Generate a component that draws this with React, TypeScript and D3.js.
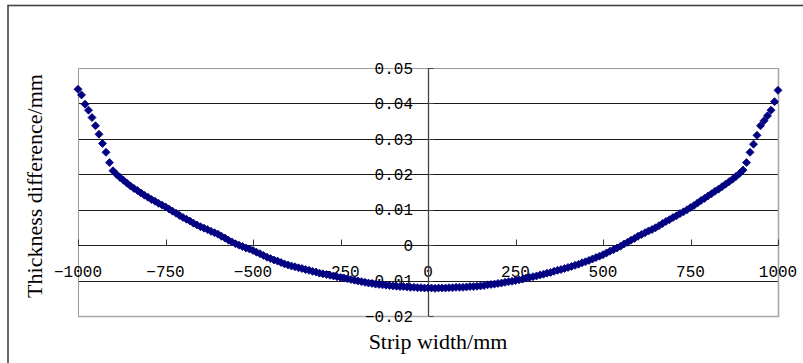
import { useRef, useEffect } from "react";
import * as d3 from "d3";

// strip width positions (mm), one sample every 10 mm
const stripWidth = [
  -1000, -990, -980, -970, -960, -950, -940, -930, -920, -910,
  -900, -890, -880, -870, -860, -850, -840, -830, -820, -810,
  -800, -790, -780, -770, -760, -750, -740, -730, -720, -710,
  -700, -690, -680, -670, -660, -650, -640, -630, -620, -610,
  -600, -590, -580, -570, -560, -550, -540, -530, -520, -510,
  -500, -490, -480, -470, -460, -450, -440, -430, -420, -410,
  -400, -390, -380, -370, -360, -350, -340, -330, -320, -310,
  -300, -290, -280, -270, -260, -250, -240, -230, -220, -210,
  -200, -190, -180, -170, -160, -150, -140, -130, -120, -110,
  -100, -90, -80, -70, -60, -50, -40, -30, -20, -10,
  0, 10, 20, 30, 40, 50, 60, 70, 80, 90,
  100, 110, 120, 130, 140, 150, 160, 170, 180, 190,
  200, 210, 220, 230, 240, 250, 260, 270, 280, 290,
  300, 310, 320, 330, 340, 350, 360, 370, 380, 390,
  400, 410, 420, 430, 440, 450, 460, 470, 480, 490,
  500, 510, 520, 530, 540, 550, 560, 570, 580, 590,
  600, 610, 620, 630, 640, 650, 660, 670, 680, 690,
  700, 710, 720, 730, 740, 750, 760, 770, 780, 790,
  800, 810, 820, 830, 840, 850, 860, 870, 880, 890,
  900, 910, 920, 930, 940, 950, 960, 970, 980, 990,
  1000,
];

// thickness difference (mm)
const thicknessDiff = [
  0.044, 0.0424, 0.0398, 0.0381, 0.036, 0.0337, 0.0313, 0.0287, 0.0262, 0.0233,
  0.021, 0.02, 0.0191, 0.0183, 0.0175, 0.0167, 0.016, 0.0154, 0.0147, 0.0141,
  0.0135, 0.0129, 0.0124, 0.0118, 0.0113, 0.0108, 0.0102, 0.0096, 0.009, 0.0084,
  0.0078, 0.0073, 0.0068, 0.0062, 0.0057, 0.0052, 0.0048, 0.0044, 0.0039, 0.0035,
  0.0031, 0.0025, 0.002, 0.0014, 0.0009, 0.0004, 0.0, -0.0004, -0.0008, -0.0011,
  -0.0015, -0.002, -0.0024, -0.0029, -0.0034, -0.0038, -0.0042, -0.0045, -0.0049, -0.0053,
  -0.0056, -0.0059, -0.0061, -0.0064, -0.0066, -0.0069, -0.0071, -0.0074, -0.0076, -0.0079,
  -0.0081, -0.0083, -0.0085, -0.0087, -0.0089, -0.0091, -0.0093, -0.0095, -0.0097, -0.0099,
  -0.0101, -0.0103, -0.0105, -0.0107, -0.0108, -0.011, -0.0111, -0.0112, -0.0113, -0.0114,
  -0.0115, -0.0116, -0.0117, -0.0117, -0.0118, -0.0119, -0.0119, -0.012, -0.012, -0.0121,
  -0.0121, -0.0121, -0.0122, -0.0121, -0.0121, -0.0121, -0.012, -0.012, -0.0119, -0.0119,
  -0.0119, -0.0118, -0.0117, -0.0117, -0.0116, -0.0115, -0.0114, -0.0112, -0.0111, -0.011,
  -0.0108, -0.0107, -0.0105, -0.0103, -0.0102, -0.01, -0.0098, -0.0096, -0.0093, -0.0091,
  -0.0089, -0.0087, -0.0084, -0.0082, -0.0079, -0.0077, -0.0074, -0.0071, -0.0069, -0.0066,
  -0.0063, -0.006, -0.0057, -0.0054, -0.005, -0.0047, -0.0043, -0.0039, -0.0035, -0.0031,
  -0.0027, -0.0022, -0.0017, -0.0013, -0.0008, -0.0003, 0.0003, 0.0008, 0.0014, 0.0019,
  0.0025, 0.003, 0.0035, 0.004, 0.0044, 0.0049, 0.0055, 0.0061, 0.0067, 0.0072,
  0.0078, 0.0083, 0.0089, 0.0094, 0.01, 0.0106, 0.0112, 0.0119, 0.0126, 0.0132,
  0.0139, 0.0145, 0.0152, 0.0158, 0.0165, 0.0172, 0.0179, 0.0186, 0.0194, 0.0202,
  0.0212, 0.0233, 0.0262, 0.0285, 0.031, 0.0337, 0.0351, 0.0365, 0.0381, 0.0405,
  0.0437,
];

const xTicks = [-1000, -750, -500, -250, 0, 250, 500, 750, 1000];
const yTicks = [-0.02, -0.01, 0, 0.01, 0.02, 0.03, 0.04, 0.05];

const W = 803;
const H = 363;
const plot = { left: 78, right: 778, top: 68, bottom: 316 };

export default function App() {
  const svgRef = useRef<SVGSVGElement>(null);

  useEffect(() => {
    const svg = d3.select(svgRef.current);
    svg.selectAll("*").remove();

    const x = d3.scaleLinear().domain([-1000, 1000]).range([plot.left, plot.right]);
    const y = d3.scaleLinear().domain([-0.02, 0.05]).range([plot.bottom, plot.top]);

    const tickFont = "'Liberation Mono', monospace";
    const titleFont = "'Liberation Serif', 'Times New Roman', serif";

    // outer chart frame (runs off the right/bottom of the picture)
    svg
      .append("rect")
      .attr("x", 8)
      .attr("y", 5.5)
      .attr("width", W + 20)
      .attr("height", H + 20)
      .attr("fill", "#fff")
      .attr("stroke", "#444")
      .attr("stroke-width", 1.6);

    // horizontal gridlines (inner ones only)
    svg
      .append("g")
      .selectAll("line")
      .data(yTicks.filter((t) => t > -0.02 && t < 0.05))
      .join("line")
      .attr("x1", plot.left)
      .attr("x2", plot.right)
      .attr("y1", (d) => Math.round(y(d)) + 0.5)
      .attr("y2", (d) => Math.round(y(d)) + 0.5)
      .attr("stroke", "#1a1a1a")
      .attr("stroke-width", 1);

    // plot area border
    svg
      .append("path")
      .attr(
        "d",
        `M${plot.left + 0.5},${plot.bottom}V${plot.top + 0.5}H${plot.right}`
      )
      .attr("fill", "none")
      .attr("stroke", "#9a9a9a")
      .attr("stroke-width", 1);
    svg
      .append("path")
      .attr(
        "d",
        `M${plot.left},${plot.bottom + 0.5}H${plot.right + 0.5}V${plot.top}`
      )
      .attr("fill", "none")
      .attr("stroke", "#a8a8a8")
      .attr("stroke-width", 1.6);

    // x axis at y = 0, ticks pointing up
    const xAxisY = Math.round(y(0)) + 0.5;
    const gx = svg.append("g");
    gx.append("line")
      .attr("x1", plot.left)
      .attr("x2", plot.right)
      .attr("y1", xAxisY)
      .attr("y2", xAxisY)
      .attr("stroke", "#222");
    gx.selectAll(".xt")
      .data(xTicks)
      .join("line")
      .attr("class", "xt")
      .attr("x1", (d) => Math.round(x(d)) + 0.5)
      .attr("x2", (d) => Math.round(x(d)) + 0.5)
      .attr("y1", xAxisY - 6)
      .attr("y2", xAxisY)
      .attr("stroke", "#333");
    gx.selectAll("text")
      .data(xTicks)
      .join("text")
      .attr("x", (d) => x(d))
      .attr("y", 277)
      .attr("text-anchor", "middle")
      .attr("font-family", tickFont)
      .attr("font-size", 16)
      .attr("fill", "#000")
      .text((d) => d3.format("d")(d));

    // y axis at x = 0, ticks pointing right
    const yAxisX = Math.round(x(0)) + 0.5;
    const gy = svg.append("g");
    gy.append("line")
      .attr("x1", yAxisX)
      .attr("x2", yAxisX)
      .attr("y1", plot.top)
      .attr("y2", plot.bottom)
      .attr("stroke", "#444")
      .attr("stroke-width", 1.3);
    gy.selectAll(".yt")
      .data(yTicks)
      .join("line")
      .attr("class", "yt")
      .attr("x1", yAxisX)
      .attr("x2", yAxisX + 5)
      .attr("y1", (d) => Math.round(y(d)) + 0.5)
      .attr("y2", (d) => Math.round(y(d)) + 0.5)
      .attr("stroke", "#444");
    gy.selectAll("text")
      .data(yTicks)
      .join("text")
      .attr("x", 413)
      .attr("y", (d) => y(d))
      .attr("dy", "0.36em")
      .attr("text-anchor", "end")
      .attr("font-family", tickFont)
      .attr("font-size", 16)
      .attr("fill", "#000")
      .text((d) => (d === 0 ? "0" : d3.format(".2f")(d)));

    // data markers (diamonds)
    const diamond = "M0,-4L4,0L0,4L-4,0Z";
    svg
      .append("g")
      .selectAll("path")
      .data(stripWidth.map((w, i) => [w, thicknessDiff[i]]))
      .join("path")
      .attr("d", diamond)
      .attr("transform", (d) => `translate(${x(d[0])},${y(d[1])})`)
      .attr("fill", "#000080")
      .attr("stroke", "#000080")
      .attr("stroke-width", 0.8);

    // axis titles
    svg
      .append("text")
      .attr("x", 438)
      .attr("y", 349)
      .attr("text-anchor", "middle")
      .attr("font-family", titleFont)
      .attr("font-size", 22)
      .attr("fill", "#000")
      .text("Strip width/mm");
    svg
      .append("text")
      .attr("transform", "translate(42,186) rotate(-90)")
      .attr("text-anchor", "middle")
      .attr("font-family", titleFont)
      .attr("font-size", 22)
      .attr("fill", "#000")
      .text("Thickness difference/mm");
  }, []);

  return (
    <svg
      ref={svgRef}
      width={W}
      height={H}
      style={{ position: "absolute", left: 0, top: 0, background: "#fff" }}
    />
  );
}
